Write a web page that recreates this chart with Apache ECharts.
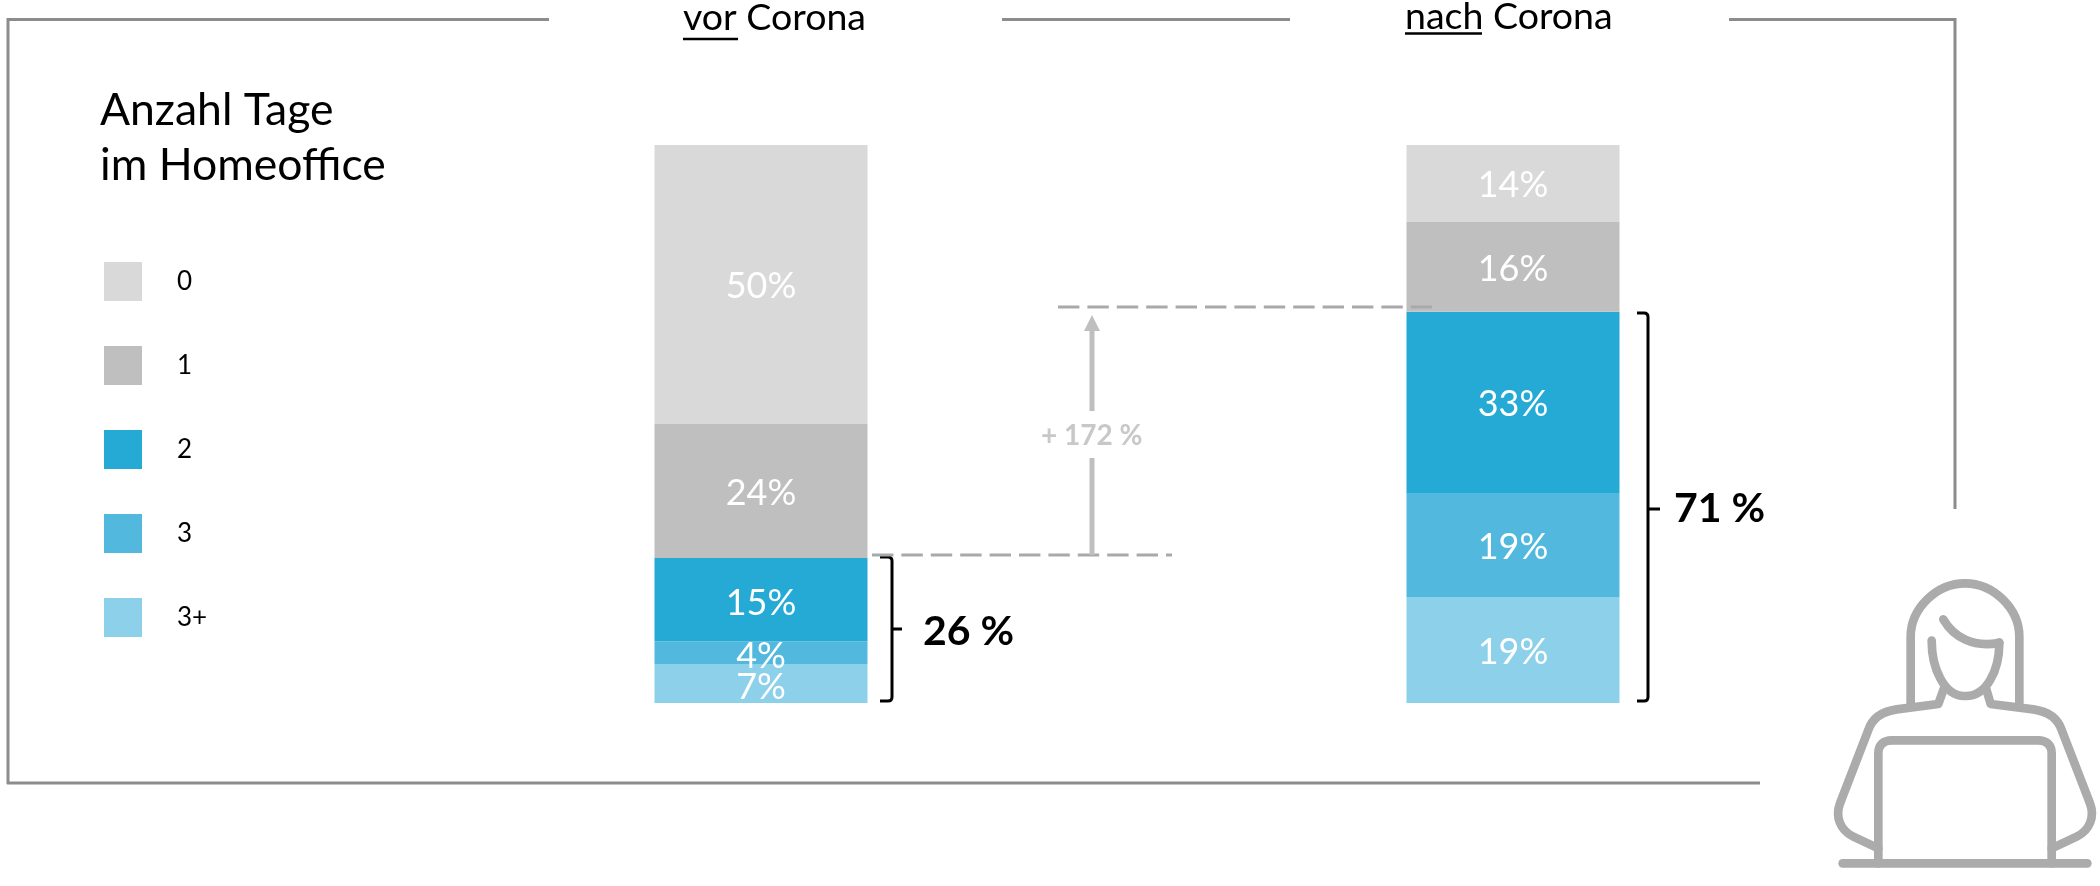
<!DOCTYPE html>
<html>
<head>
<meta charset="utf-8">
<title>Anzahl Tage im Homeoffice</title>
<script src="https://cdn.jsdelivr.net/npm/echarts@6/dist/echarts.min.js"></script>
<style>
  html, body { margin: 0; padding: 0; background: #fff; }
  #chart { width: 2100px; height: 886px; }
</style>
</head>
<body>
<div id="chart"></div>
<script>
// Werte von unten nach oben gestapelt
var categories = ['vor Corona', 'nach Corona']
var days = ['3+', '3', '2', '1', '0']
var legendOrder = ['0', '1', '2', '3', '3+']
var share3plus = [7, 19]
var share3 = [4, 18.5]
var share2 = [15, 32.6]
var share1 = [24, 16.1]
var share0 = [50, 13.8]
var sumLabels = ['26 %', '71 %']
var changeLabel = '+ 172 %'

var shares = [share3plus, share3, share2, share1, share0]
var colors = ['#8dd0ea', '#52b8dd', '#25aad6', '#bfbfbf', '#d9d9d9']
var fontName = 'Lato'
var frameColor = '#8c8c8c'
var dashColor = '#a9a9a9'
var arrowColor = '#bfbfbf'
var iconColor = '#ababab'

function line(x1, y1, x2, y2, color, width, dash) {
  return {
    type: 'line',
    silent: true,
    z: 10,
    shape: { x1: x1, y1: y1, x2: x2, y2: y2 },
    style: { stroke: color, lineWidth: width, lineDash: dash || null }
  }
}

function text(str, x, y, size, color, weight) {
  return {
    type: 'text',
    silent: true,
    x: x,
    y: y,
    style: {
      text: str,
      fill: color,
      font: (weight || 'normal') + ' ' + size + 'px ' + fontName,
      textAlign: 'left',
      textVerticalAlign: 'middle'
    }
  }
}

// graphic kennt keinen Typ path, deshalb jede Form registrieren
var shapeCount = 0
function pathShape(pathData, opts) {
  var name = 'homeofficeShape' + shapeCount++
  echarts.graphic.registerShape(name, echarts.graphic.extendPath(pathData, {}))
  return Object.assign({ type: name, silent: true }, opts)
}

function brace(hookX, spineX, tickX, top, bottom, mid) {
  var d = 'M' + hookX + ' ' + top + ' H' + (spineX - 4) + ' Q' + spineX + ' ' + top + ' ' + spineX + ' ' + (top + 4) +
    ' V' + (bottom - 4) + ' Q' + spineX + ' ' + bottom + ' ' + (spineX - 4) + ' ' + bottom + ' H' + hookX +
    ' M' + spineX + ' ' + mid + ' H' + tickX
  return pathShape(d, { style: { fill: null, stroke: '#000', lineWidth: 3 } })
}

// Icon in Koordinaten des 3x-Ausschnitts gezeichnet
function icon(d) {
  return pathShape(d, {
    x: 1740,
    y: 480,
    scaleX: 1 / 3,
    scaleY: 1 / 3,
    style: { fill: null, stroke: iconColor, lineWidth: 26, lineCap: 'round', lineJoin: 'round' }
  })
}

var graphics = [
  // Rahmen
  line(8, 19.5, 549, 19.5, frameColor, 3),
  line(8, 18, 8, 784, frameColor, 3),
  line(7, 783, 1760, 783, frameColor, 3),
  line(1002, 19.5, 1290, 19.5, frameColor, 3),
  line(1729, 19.5, 1955, 19.5, frameColor, 3),
  line(1955, 18, 1955, 509, frameColor, 3),
  // Spaltenköpfe
  text(categories[0], 683, 18, 37.5, '#000'),
  line(683, 39, 738, 39, '#000', 2.5),
  text(categories[1], 1405, 17, 37.5, '#000'),
  line(1405, 33.5, 1482, 33.5, '#000', 2.5),
  // Hilfslinien und Pfeil
  line(872, 555, 1172, 555, dashColor, 3, [21.4, 8]),
  line(1058, 307, 1432, 307, dashColor, 3, [21.4, 8]),
  line(1092, 555, 1092, 458, arrowColor, 5),
  line(1092, 411, 1092, 330, arrowColor, 5),
  {
    type: 'polygon',
    silent: true,
    shape: { points: [[1092, 315], [1100, 331], [1084, 331]] },
    style: { fill: arrowColor }
  },
  text(changeLabel, 1041, 436, 28, '#c8c8c8', 'bold'),
  // Klammern
  brace(880, 892, 902, 557, 701, 629),
  brace(1637, 1648, 1660, 313, 701, 509),
  text(sumLabels[0], 923, 632, 41, '#000', 'bold'),
  text(sumLabels[1], 1674, 509, 41, '#000', 'bold'),
  // Person am Laptop
  icon('M512 672 V470 C512 385 590 310 675 310 C760 310 838 385 838 470 V672'),
  icon('M610 418 C640 470 700 505 778 488'),
  icon('M575 482 C575 560 610 650 675 648 C740 650 778 570 778 488'),
  icon('M612 625 L595 672 L470 688 C420 695 395 720 385 750 L300 970 C285 1010 300 1050 340 1070 L415 1105'),
  icon('M738 625 L752 672 L880 688 C930 695 955 720 965 750 L1050 970 C1065 1010 1050 1050 1010 1070 L935 1105'),
  icon('M415 1150 V820 C415 795 430 781 455 781 H895 C920 781 935 795 935 820 V1150'),
  icon('M308 1150 H1042')
]

var series = days.map(function(name, i) {
  return {
    name: name,
    type: 'bar',
    stack: 'total',
    barWidth: 213,
    // die drei unteren Labels der linken Säule sitzen etwas tiefer
    data: shares[i].map(function(v, j) {
      return j === 0 && i < 3 ? { value: v, label: { offset: [0, 4] } } : v
    }),
    itemStyle: { color: colors[i] },
    label: {
      show: true,
      position: 'inside',
      offset: [0, 2],
      color: '#fff',
      fontFamily: fontName,
      fontSize: 36,
      fontWeight: 'normal',
      formatter: function(p) {
        return Math.round(p.value) + '%'
      }
    }
  }
})

var chart = echarts.init(document.getElementById('chart'))
var option = {
  animation: false,
  backgroundColor: '#fff',
  title: {
    text: 'Anzahl Tage\nim Homeoffice',
    left: 95,
    top: 78,
    textStyle: {
      color: '#000',
      fontFamily: fontName,
      fontSize: 44.5,
      fontWeight: 'normal',
      lineHeight: 55
    }
  },
  legend: {
    data: legendOrder,
    orient: 'vertical',
    left: 99,
    top: 257,
    icon: 'rect',
    itemWidth: 38,
    itemHeight: 39,
    itemGap: 45,
    selectedMode: false,
    textStyle: {
      color: '#000',
      fontFamily: fontName,
      fontSize: 26,
      padding: [0, 0, 0, 30]
    }
  },
  grid: { left: 385, right: 211, top: 145, bottom: 183 },
  xAxis: { type: 'category', data: categories, show: false },
  yAxis: { type: 'value', min: 0, max: 100, show: false },
  series: series,
  graphic: graphics
}
chart.setOption(option)
</script>
</body>
</html>
